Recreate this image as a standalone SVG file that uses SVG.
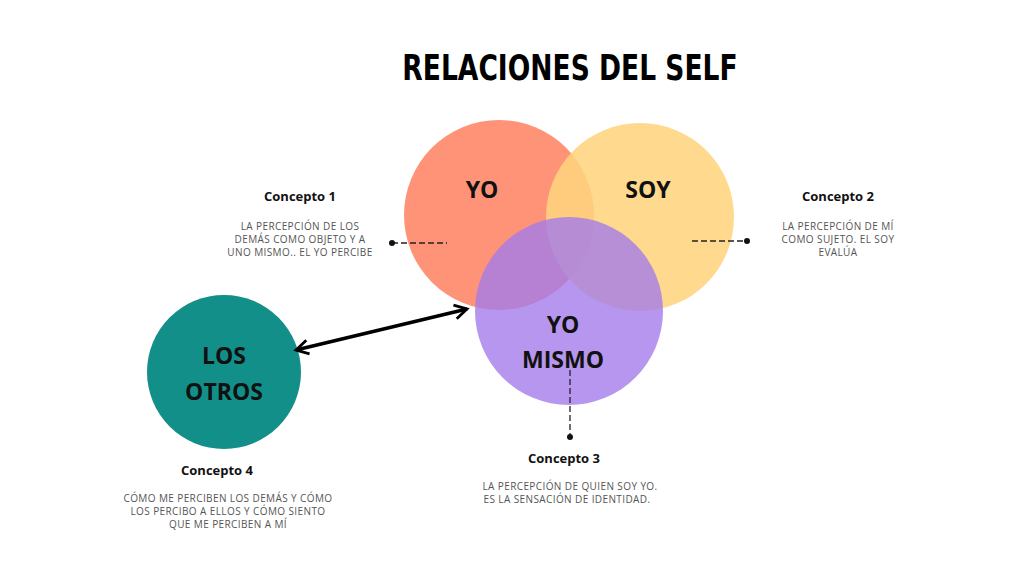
<svg xmlns="http://www.w3.org/2000/svg" width="1024" height="576" viewBox="0 0 1024 576">
<style>
.t{font-family:"DejaVu Sans Condensed","DejaVu Sans",sans-serif;font-weight:bold;font-size:36px;fill:#000}
.n{font-family:"Open Sans","Liberation Sans",sans-serif;font-weight:bold;font-size:23px;fill:#111;text-anchor:middle}
.h{font-family:"Open Sans","Liberation Sans",sans-serif;font-weight:bold;font-size:13px;fill:#111;text-anchor:middle}
.d{font-family:"Open Sans","Liberation Sans",sans-serif;font-size:10px;fill:#555;text-anchor:middle;letter-spacing:0.4px}
.dl{stroke:#222;stroke-width:1.3;stroke-dasharray:6 3;fill:none}
</style>
<defs>
<marker id="ah" viewBox="0 0 10 10" refX="8" refY="5" markerWidth="5" markerHeight="5" orient="auto-start-reverse"><path d="M1,1 L8,5 L1,9" fill="none" stroke="#000" stroke-width="1.6"/></marker>
</defs>
<rect width="1024" height="576" fill="#fff"/>
<text x="570" y="80" text-anchor="middle" class="t" transform="translate(570 0) scale(0.82 1) translate(-570 0)">RELACIONES DEL SELF</text>
<g id="yo"><circle cx="499" cy="215" r="95" fill="#FE8A6C" fill-opacity="0.92"/></g>
<g id="soy"><circle cx="640" cy="217" r="94" fill="#FFD47E" fill-opacity="0.88"/></g>
<g id="yomismo"><circle cx="569" cy="311" r="94" fill="#A47CEA" fill-opacity="0.8"/></g>
<g id="losotros"><circle cx="224" cy="372" r="77" fill="#138F89"/>
<text class="n" x="224" y="364">LOS</text><text class="n" x="224" y="400">OTROS</text></g>
<text class="n" x="482" y="198">YO</text>
<text class="n" x="648" y="198">SOY</text>
<text class="n" x="563" y="333">YO</text><text class="n" x="563" y="368">MISMO</text>
<g id="connectors">
<line x1="296" y1="350" x2="467" y2="309" stroke="#000" stroke-width="3.5" marker-start="url(#ah)" marker-end="url(#ah)"/>
<path class="dl" d="M392,243 H447"/><circle cx="392" cy="243" r="3" fill="#111"/>
<path class="dl" d="M692,241 H747"/><circle cx="747" cy="241" r="3" fill="#111"/>
<path class="dl" d="M570,370 V437"/><circle cx="570" cy="437" r="3" fill="#111"/>
</g>
<g id="c1"><text class="h" x="300" y="201">Concepto 1</text>
<text class="d" x="300" y="230">LA PERCEPCIÓN DE LOS</text><text class="d" x="300" y="243">DEMÁS COMO OBJETO Y A</text><text class="d" x="300" y="256">UNO MISMO.. EL YO PERCIBE</text></g>
<g id="c2"><text class="h" x="838" y="201">Concepto 2</text>
<text class="d" x="838" y="230">LA PERCEPCIÓN DE MÍ</text><text class="d" x="838" y="243">COMO SUJETO. EL SOY</text><text class="d" x="838" y="256">EVALÚA</text></g>
<g id="c3"><text class="h" x="564" y="463">Concepto 3</text>
<text class="d" x="570" y="490">LA PERCEPCIÓN DE QUIEN SOY YO.</text><text class="d" x="567" y="503">ES LA SENSACIÓN DE IDENTIDAD.</text></g>
<g id="c4"><text class="h" x="217" y="475">Concepto 4</text>
<text class="d" x="228" y="502">CÓMO ME PERCIBEN LOS DEMÁS Y CÓMO</text><text class="d" x="228" y="515">LOS PERCIBO A ELLOS Y CÓMO SIENTO</text><text class="d" x="228" y="528">QUE ME PERCIBEN A MÍ</text></g>
</svg>
